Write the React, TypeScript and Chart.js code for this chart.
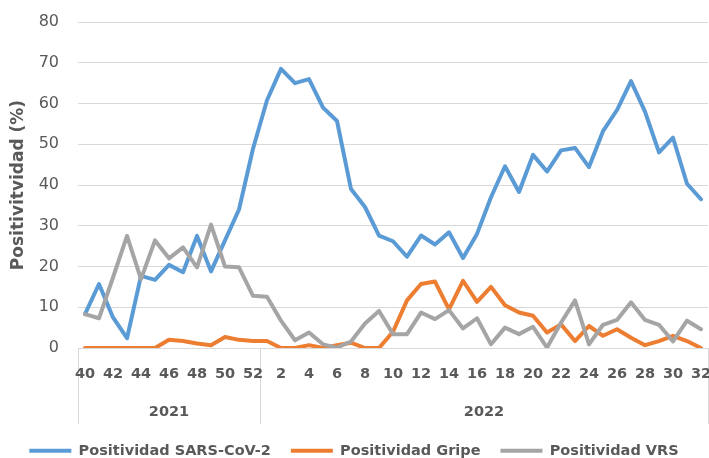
import { useEffect, useRef } from "react"
import { Chart, registerables } from "chart.js"

Chart.register(...registerables)

// weeks: 2021 (40-52) then 2022 (1-32)
const weeks2021 = [40, 41, 42, 43, 44, 45, 46, 47, 48, 49, 50, 51, 52]
const weeks2022 = [
  1, 2, 3, 4, 5, 6, 7, 8, 9, 10, 11, 12, 13, 14, 15, 16,
  17, 18, 19, 20, 21, 22, 23, 24, 25, 26, 27, 28, 29, 30, 31, 32,
]
const years = ["2021", "2022"]

const sarsCov2 = [
  8.3, 15.7, 7.5, 2.4, 17.7, 16.7, 20.4, 18.6, 27.5, 18.8, 26.4, 34, 48.9,
  60.8, 68.5, 65, 66, 59, 55.7, 39, 34.6, 27.6, 26.2, 22.4, 27.6, 25.4, 28.4, 22.1,
  28, 37, 44.6, 38.3, 47.4, 43.3, 48.5, 49.1, 44.4, 53.2, 58.4, 65.5, 58, 48,
  51.6, 40.3, 36.5,
]
const gripe = [
  0, 0, 0, 0, 0, 0, 2.0, 1.7, 1.1, 0.7, 2.7, 2.0, 1.7,
  1.7, 0, 0, 0.7, 0, 0.7, 1.3, 0, 0, 4.0, 11.7, 15.7, 16.3, 9.5, 16.5,
  11.3, 15, 10.5, 8.7, 7.9, 3.8, 5.8, 1.7, 5.4, 3.0, 4.6, 2.5, 0.7, 1.7,
  3.0, 1.7, 0,
]
const vrs = [
  8.3, 7.3, 17.3, 27.5, 16.9, 26.4, 22, 24.7, 19.8, 30.3, 20, 19.8, 12.8,
  12.6, 6.7, 1.9, 3.8, 0.9, 0.1, 1.6, 6, 9.1, 3.4, 3.4, 8.7, 7.1, 9.3, 4.8,
  7.3, 0.9, 5, 3.4, 5.2, 0.1, 6.2, 11.7, 0.9, 5.7, 6.9, 11.2, 6.9, 5.7,
  1.6, 6.7, 4.6,
]

const FONT = "'DejaVu Sans', sans-serif"
const TEXT = "#595959"
const GRID = "#d9d9d9"

// week labels (every other one) plus the two-level year axis under them
const weekAxis = {
  id: "weekAxis",
  afterDraw(chart: Chart) {
    const { ctx, chartArea } = chart
    const x = chart.scales.x
    const labels = chart.data.labels as string[]
    const split = (x.getPixelForValue(weeks2021.length - 1) + x.getPixelForValue(weeks2021.length)) / 2
    const bounds = [chartArea.left, split, chartArea.right]
    const base = chartArea.bottom
    ctx.save()
    ctx.strokeStyle = GRID
    ctx.lineWidth = 1
    bounds.forEach((b) => {
      const px = Math.round(b) + 0.5
      ctx.beginPath()
      ctx.moveTo(px, base)
      ctx.lineTo(px, base + 76)
      ctx.stroke()
    })
    ctx.fillStyle = TEXT
    ctx.font = `bold 14.5px ${FONT}`
    ctx.textAlign = "center"
    ctx.textBaseline = "middle"
    labels.forEach((lab, i) => {
      if (i % 2 === 0) ctx.fillText(lab, x.getPixelForValue(i), base + 26)
    })
    years.forEach((yr, i) => {
      ctx.fillText(yr, (bounds[i] + bounds[i + 1]) / 2, base + 64)
    })
    ctx.restore()
  },
}

export default function App() {
  const chartRef = useRef<HTMLCanvasElement>(null)
  const chartInstance = useRef<Chart | null>(null)

  useEffect(() => {
    if (!chartRef.current) return
    if (chartInstance.current) chartInstance.current.destroy()

    const labels = [...weeks2021, ...weeks2022].map(String)
    const line = (label: string, data: number[], color: string, order: number) => ({
      label,
      data,
      borderColor: color,
      backgroundColor: color,
      borderWidth: 4,
      borderCapStyle: "round" as const,
      borderJoinStyle: "round" as const,
      pointRadius: 0,
      tension: 0,
      order,
    })

    chartInstance.current = new Chart(chartRef.current, {
      type: "line",
      data: {
        labels,
        datasets: [
          line("Positividad SARS-CoV-2", sarsCov2, "#5b9bd5", 3),
          line("Positividad Gripe", gripe, "#ed7d31", 2),
          line("Positividad VRS", vrs, "#a5a5a5", 1),
        ],
      },
      options: {
        responsive: true,
        maintainAspectRatio: false,
        animation: false,
        layout: { padding: { top: 22, right: 1, left: 0, bottom: 0 } },
        plugins: {
          tooltip: { enabled: false },
          legend: {
            position: "bottom",
            labels: {
              usePointStyle: true,
              pointStyle: "line",
              pointStyleWidth: 42,
              padding: 20,
              color: TEXT,
              font: { family: FONT, size: 14.5, weight: "bold" },
              sort: (a, b) => (a.datasetIndex ?? 0) - (b.datasetIndex ?? 0),
            },
          },
        },
        scales: {
          x: {
            offset: true,
            grid: { display: false, drawTicks: false },
            border: { display: true, color: GRID, width: 1 },
            ticks: { display: false },
            afterFit: (s) => {
              s.height = 75.5
              s.paddingLeft = 0
              s.paddingRight = 0
            },
          },
          y: {
            min: 0,
            max: 80,
            grid: { color: GRID, lineWidth: 1, drawTicks: false },
            border: { display: false },
            ticks: {
              stepSize: 10,
              padding: 19,
              color: TEXT,
              font: { family: FONT, size: 16 },
            },
            title: {
              display: true,
              text: "Positivitvidad (%)",
              color: TEXT,
              padding: { top: 8, bottom: 0 },
              font: { family: FONT, size: 17, weight: "bold" },
            },
            afterFit: (s) => {
              s.width = 78
              s.paddingTop = 0
              s.paddingBottom = 0
            },
          },
        },
      },
      plugins: [weekAxis],
    })

    return () => {
      if (chartInstance.current) {
        chartInstance.current.destroy()
        chartInstance.current = null
      }
    }
  }, [])

  return (
    <div style={{ position: "fixed", left: 0, top: 0, width: 709, height: 468, background: "#fff" }}>
      <canvas ref={chartRef} />
    </div>
  )
}
